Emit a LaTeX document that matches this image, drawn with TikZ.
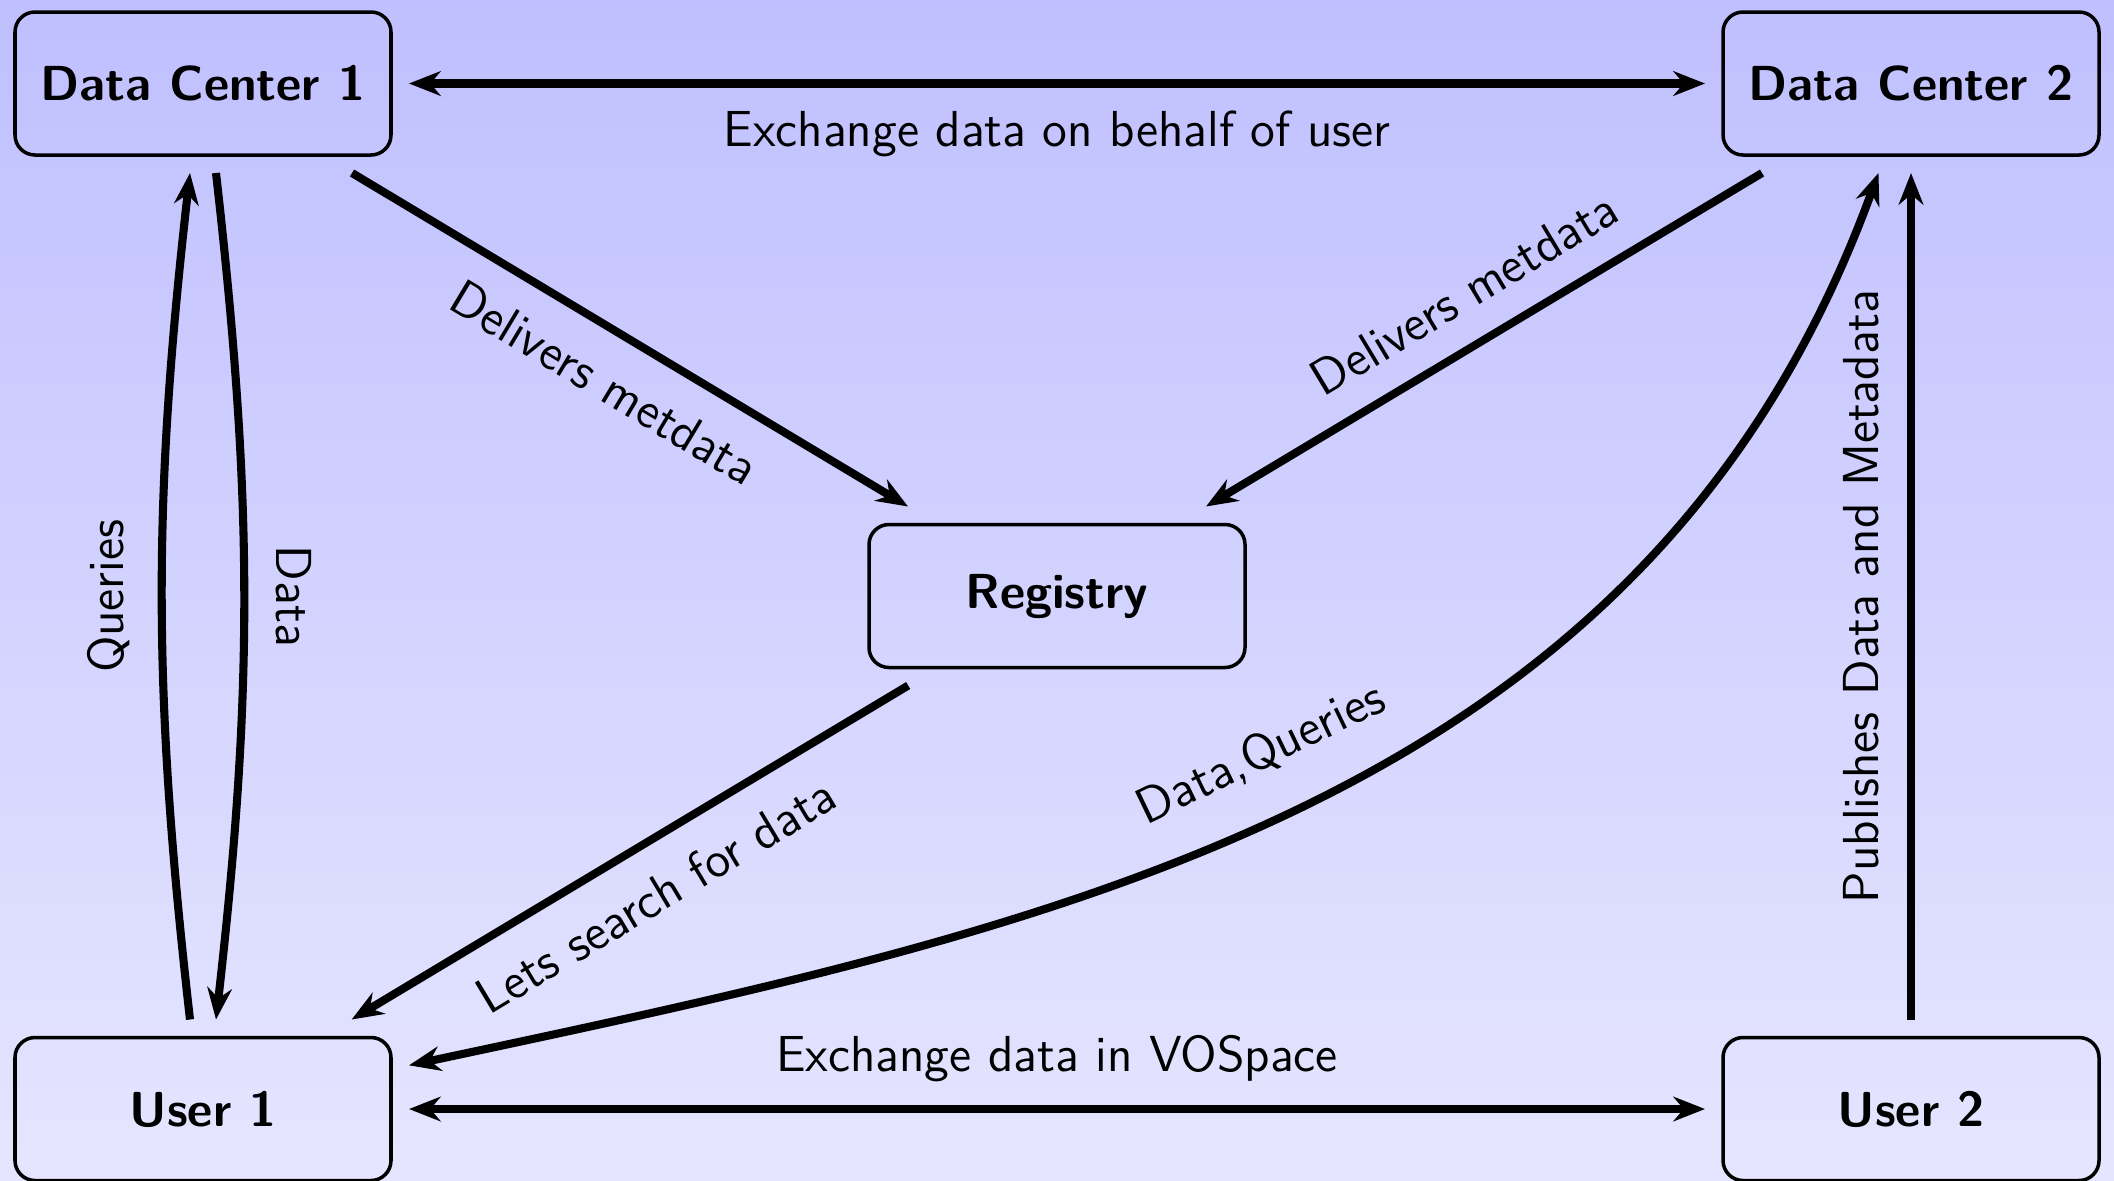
\documentclass[tikz,border=0pt]{standalone}
\usetikzlibrary{arrows.meta}
\begin{document}
\begin{tikzpicture}[
  box/.style={draw, line width=1pt, rounded corners=0.2cm, minimum width=3.76cm,
    minimum height=1.43cm, outer sep=0.18cm, inner sep=0pt,
    font=\sffamily\bfseries\fontsize{14}{17}\selectfont},
  tipx/.tip={Stealth[length=9pt,width=7pt]},
  conn/.style={line width=2.3pt, -tipx},
  biconn/.style={line width=2.3pt, tipx-tipx},
  lbl/.style={font=\sffamily\fontsize{14.4}{17}\selectfont, inner sep=6.5pt}
]
\shade[top color=blue!25, bottom color=blue!10] (0,0) rectangle (21.14,-11.80);
\useasboundingbox (0,0) rectangle (21.14,-11.80);

\node[box] (dc1) at (2.03,-0.835) {Data Center 1};
\node[box] (dc2) at (19.11,-0.835) {Data Center 2};
\node[box] (reg) at (10.57,-5.96) {Registry};
\node[box] (u1) at (2.03,-11.09) {User 1};
\node[box] (u2) at (19.11,-11.09) {User 2};

\draw[biconn] (dc1) -- node[lbl, below] {Exchange data on behalf of user} (dc2);
\draw[biconn] (u1) -- node[lbl, above] {Exchange data in VOSpace} (u2);
\draw[conn] (dc1) -- node[lbl, sloped, below, inner sep=8pt] {Delivers metdata} (reg);
\draw[conn] (dc2) -- node[lbl, sloped, above, inner sep=8pt, pos=0.49] {Delivers metdata} (reg);
\draw[conn] (reg) -- node[lbl, sloped, below, inner sep=8pt] {Lets search for data} (u1);
\draw[biconn] (u1) to[out=12, in=-110] node[lbl, sloped, above, pos=0.49, inner sep=11pt] {Data,Queries} (dc2);
\draw[conn] (u2) -- node[lbl, rotate=90, anchor=south, inner sep=8pt] {Publishes Data and Metadata} (dc2);
\draw[conn] ([xshift=-0.13cm]u1.north) to[bend left=6.5] node[lbl, rotate=90, anchor=south, inner sep=8pt] {Queries} ([xshift=-0.13cm]dc1.south);
\draw[conn] ([xshift=0.13cm]dc1.south) to[bend left=6.5] node[lbl, rotate=-90, anchor=south, inner sep=8pt] {Data} ([xshift=0.13cm]u1.north);
\end{tikzpicture}
\end{document}
